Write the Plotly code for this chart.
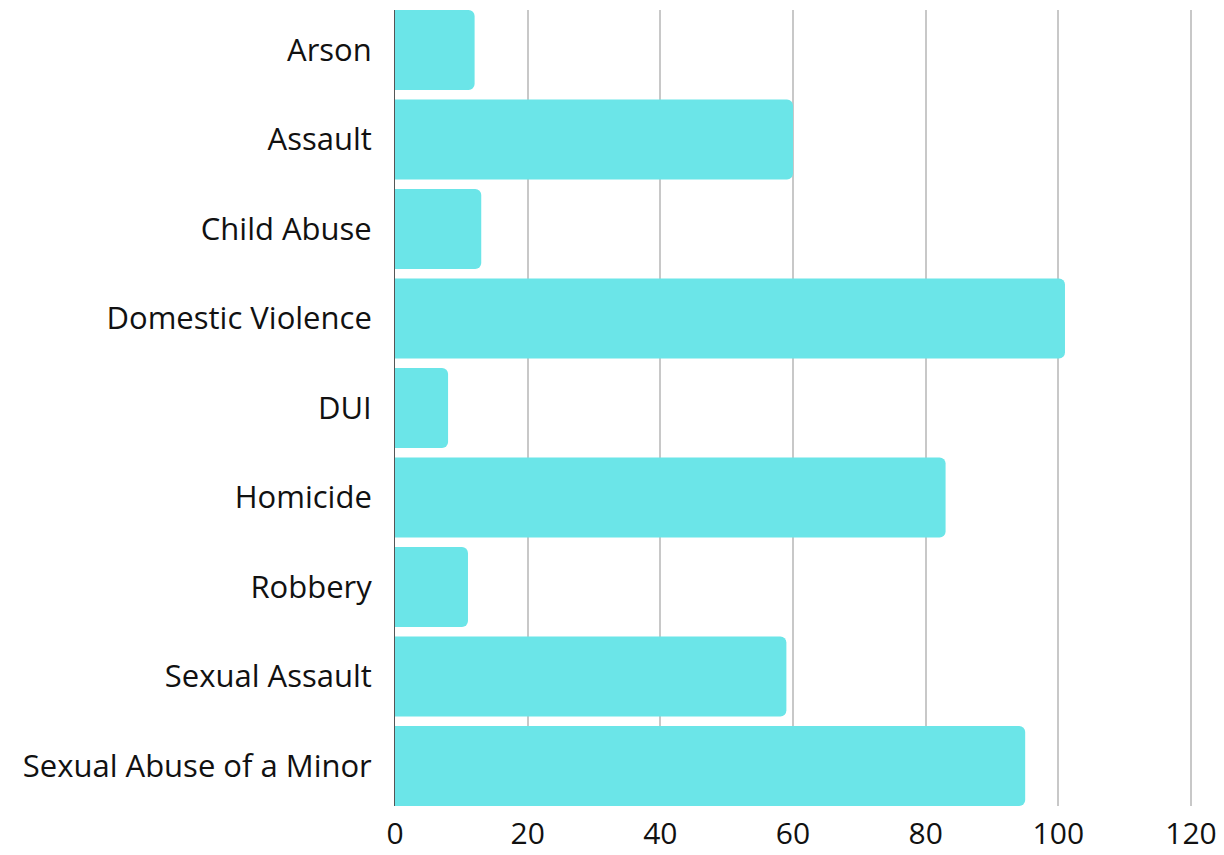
import plotly.graph_objects as go

# Categories and values
crimes = [
    "Arson",
    "Assault",
    "Child Abuse",
    "Domestic Violence",
    "DUI",
    "Homicide",
    "Robbery",
    "Sexual Assault",
    "Sexual Abuse of a Minor",
]
counts = [12, 60, 13, 101, 8, 83, 11, 59, 95]
x_ticks = [0, 20, 40, 60, 80, 100, 120]

fig = go.Figure(
    go.Bar(
        x=counts,
        y=crimes,
        orientation="h",
        marker=dict(color="#6BE5E8", line=dict(width=0)),
    )
)

fig.update_layout(
    width=1224,
    height=855,
    plot_bgcolor="white",
    paper_bgcolor="white",
    font=dict(family="Open Sans, Noto Sans, sans-serif", size=31, color="#111"),
    margin=dict(l=395, r=29, t=10, b=49),
    bargap=0.106,
    barcornerradius=6,
    showlegend=False,
)

fig.update_xaxes(
    range=[0, 120.6],
    tickvals=x_ticks,
    showgrid=True,
    gridcolor="#c8c8c8",
    gridwidth=1.5,
    zeroline=False,
    showline=False,
    ticks="",
    ticklabelstandoff=7,
    ticklabeloverflow="allow",
    tickfont=dict(size=30),
    automargin=False,
)

# bars touch the top and bottom of the plot area
fig.update_yaxes(
    range=[len(crimes) - 1 + 0.447, -0.447],
    showgrid=False,
    showline=True,
    linecolor="#555",
    linewidth=1,
    layer="below traces",
    ticks="",
    ticklabelstandoff=16,
    automargin=False,
)

# drop the default page margin so the figure fills the window
fig.write_html(
    "out.html",
    config={"displayModeBar": False},
    post_script="document.body.style.margin='0';",
)
